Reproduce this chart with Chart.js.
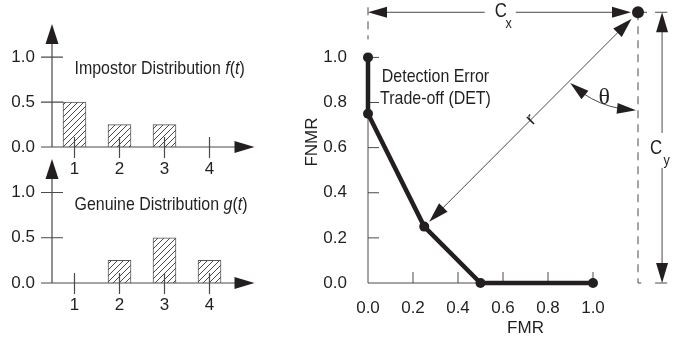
<!DOCTYPE html>
<html>
<head>
<meta charset="utf-8">
<script src="https://cdn.jsdelivr.net/npm/chart.js@4/dist/chart.umd.min.js"></script>
<style>
    body { margin: 0; background: #fff; }
    #wrap { position: relative; width: 684px; height: 343px; overflow: hidden; }
    #wrap canvas { position: absolute; }
</style>
</head>
<body>
<div id="wrap">
    <canvas id="impostor" width="300" height="190" style="left:0;top:0"></canvas>
    <canvas id="genuine" width="300" height="193" style="left:0;top:150px"></canvas>
    <canvas id="det" width="384" height="343" style="left:300px;top:0"></canvas>
</div>
<script>
// score thresholds t and the two score distributions
const thresholds = [1, 2, 3, 4];
const impostor = [0.5, 0.25, 0.25, 0];
const genuine = [0, 0.25, 0.5, 0.25];
const probTicks = [0, 0.5, 1.0];

// DET curve points
const fmr = [0, 0, 0.25, 0.5, 1.0];
const fnmr = [1.0, 0.75, 0.25, 0, 0];
const rateTicks = [0, 0.2, 0.4, 0.6, 0.8, 1.0];

// cost point (Cx, Cy) and the DET point it is measured to
const costPoint = [1.2, 1.2];
const nearestPoint = [0.25, 0.25];

const ink = '#231f20';
const line = '#4a4a4a';
const sans = '"Liberation Sans", Arial, sans-serif';
const serif = '"Liberation Serif", "DejaVu Serif", serif';
const squeeze = 0.84;   // the original lettering is a condensed face

Chart.defaults.font.family = sans;
Chart.defaults.color = ink;

function arrowHead(ctx, x, y, angle, len, wid) {
    ctx.save();
    ctx.translate(x, y);
    ctx.rotate(angle);
    ctx.beginPath();
    ctx.moveTo(0, 0);
    ctx.lineTo(-len, -wid / 2);
    ctx.lineTo(-len, wid / 2);
    ctx.closePath();
    ctx.fill();
    ctx.restore();
}

// draws text squeezed horizontally, returns the drawn width
function narrowText(ctx, txt, x, y) {
    ctx.save();
    ctx.translate(x, y);
    ctx.scale(squeeze, 1);
    ctx.fillText(txt, 0, 0);
    ctx.restore();
    return ctx.measureText(txt).width * squeeze;
}

function hatch() {
    const p = document.createElement('canvas');
    p.width = 6; p.height = 6;
    const c = p.getContext('2d');
    c.fillStyle = '#fff';
    c.fillRect(0, 0, 6, 6);
    c.strokeStyle = '#333';
    c.lineWidth = 0.9;
    c.beginPath();
    c.moveTo(0, 6); c.lineTo(6, 0);
    c.moveTo(-1, 1); c.lineTo(1, -1);
    c.moveTo(5, 7); c.lineTo(7, 5);
    c.stroke();
    return c.createPattern(p, 'repeat');
}

function noPad(s) {
    s.paddingTop = 0; s.paddingBottom = 0;
    s.paddingLeft = 0; s.paddingRight = 0;
}

// axes with arrow tips and crossing tick marks for the small distribution plots
const arrowAxes = {
    id: 'arrowAxes',
    afterDraw(chart, args, opts) {
        const { ctx, chartArea, scales: { x, y } } = chart;
        const x0 = x.left;
        const y0 = y.getPixelForValue(0);
        ctx.save();
        ctx.strokeStyle = line;
        ctx.fillStyle = ink;
        ctx.lineWidth = 1.2;
        ctx.beginPath();
        ctx.moveTo(x0 - 11, y0); ctx.lineTo(chartArea.right - 15, y0);
        ctx.moveTo(x0, y0); ctx.lineTo(x0, chartArea.top + 15);
        thresholds.forEach(t => {
            const px = x.getPixelForValue(t);
            ctx.moveTo(px, y0 - 10); ctx.lineTo(px, y0 + 11);
        });
        probTicks.slice(1).forEach(v => {
            const py = y.getPixelForValue(v);
            ctx.moveTo(x0 - 11, py); ctx.lineTo(x0 + 11, py);
        });
        ctx.stroke();
        arrowHead(ctx, chartArea.right, y0, 0, 20, 12);
        arrowHead(ctx, x0, chartArea.top, -Math.PI / 2, 20, 13);

        // caption with italic function name
        let px = x.getPixelForValue(1.0);
        const py = y.getPixelForValue(0.867);
        ctx.textBaseline = 'middle';
        opts.caption.forEach(([txt, it]) => {
            ctx.font = (it ? 'italic ' : '') + '19px ' + sans;
            px += narrowText(ctx, txt, px, py);
        });
        ctx.restore();
    }
};

function distChart(id, values, caption) {
    return new Chart(document.getElementById(id), {
        type: 'bar',
        data: {
            datasets: [{
                data: thresholds.map((t, i) => ({ x: t, y: values[i] })),
                backgroundColor: hatch(),
                borderColor: '#555',
                borderWidth: 1,
                borderSkipped: 'start',
                barThickness: 23
            }]
        },
        options: {
            responsive: false,
            animation: false,
            layout: { autoPadding: false, padding: { top: id === 'impostor' ? 24 : 9, right: 45.5 } },
            plugins: { legend: { display: false }, tooltip: { enabled: false }, arrowAxes: { caption } },
            scales: {
                x: {
                    type: 'linear', min: 0.5, max: 5, offset: false,
                    afterBuildTicks: s => { s.ticks = thresholds.map(v => ({ value: v })); },
                    afterFit: s => { s.height = id === 'impostor' ? 43 : 60; noPad(s); },
                    grid: { display: false, drawTicks: false },
                    border: { display: false },
                    ticks: { padding: 12, font: { size: 17 }, callback: v => String(v) }
                },
                y: {
                    min: 0, max: 1.37,
                    afterBuildTicks: s => { s.ticks = probTicks.map(v => ({ value: v })); },
                    afterFit: s => { s.width = 52; noPad(s); },
                    grid: { display: false, drawTicks: false },
                    border: { display: false },
                    ticks: { padding: 17, font: { size: 17 }, callback: v => v.toFixed(1) }
                }
            }
        },
        plugins: [arrowAxes]
    });
}

distChart('impostor', impostor, [['Impostor Distribution '], ['f', true], ['('], ['t', true], [')']]);
distChart('genuine', genuine, [['Genuine Distribution '], ['g', true], ['('], ['t', true], [')']]);

// DET plot: inner ticks, dimension arrows, r and theta
const detDecor = {
    id: 'detDecor',
    beforeDatasetsDraw(chart) {
        const { ctx, scales: { x, y } } = chart;
        const X = v => x.getPixelForValue(v);
        const Y = v => y.getPixelForValue(v);
        ctx.save();
        ctx.strokeStyle = line;
        ctx.lineWidth = 1;
        ctx.beginPath();
        ctx.moveTo(X(0), Y(0)); ctx.lineTo(X(1), Y(0));
        ctx.moveTo(X(0), Y(0)); ctx.lineTo(X(0), Y(1));
        rateTicks.slice(1).forEach(v => {
            ctx.moveTo(X(v), Y(0)); ctx.lineTo(X(v), Y(0) - 11);
            ctx.moveTo(X(0), Y(v)); ctx.lineTo(X(0) + 11, Y(v));
        });
        ctx.stroke();

        // dashed guides
        const [cx, cy] = costPoint;
        ctx.setLineDash([8, 6]);
        ctx.beginPath();
        ctx.moveTo(X(cx), Y(cy)); ctx.lineTo(X(cx), Y(0));
        ctx.lineTo(X(1.24), Y(0));
        ctx.moveTo(X(0), Y(cy) - 5); ctx.lineTo(X(0), Y(1.08));
        ctx.stroke();
        ctx.setLineDash([]);
        ctx.beginPath();
        ctx.moveTo(X(cx), Y(cy)); ctx.lineTo(X(1.24), Y(cy));
        ctx.stroke();
        ctx.restore();
    },
    afterDatasetsDraw(chart) {
        const { ctx, scales: { x, y } } = chart;
        const X = v => x.getPixelForValue(v);
        const Y = v => y.getPixelForValue(v);
        const [cx, cy] = costPoint;
        const px = X(cx), py = Y(cy);
        ctx.save();
        ctx.strokeStyle = line;
        ctx.fillStyle = ink;
        ctx.lineWidth = 1;

        // Cx dimension
        const cxMid = X(0.59);
        ctx.beginPath();
        ctx.moveTo(X(0) + 10, py); ctx.lineTo(cxMid - 16, py);
        ctx.moveTo(cxMid + 15, py); ctx.lineTo(px - 15, py);
        // Cy dimension
        const dx = X(1.307);
        ctx.moveTo(dx, py + 10); ctx.lineTo(dx, Y(0.665));
        ctx.moveTo(dx, Y(0.51)); ctx.lineTo(dx, Y(0) - 10);
        ctx.moveTo(X(1.276), py); ctx.lineTo(X(1.33), py);
        ctx.moveTo(X(1.276), Y(0)); ctx.lineTo(X(1.33), Y(0));
        ctx.stroke();
        arrowHead(ctx, X(0), py, Math.PI, 19, 11);
        arrowHead(ctx, px - 7, py, 0, 19, 11);
        arrowHead(ctx, dx, py, -Math.PI / 2, 20, 12);
        arrowHead(ctx, dx, Y(0), Math.PI / 2, 20, 12);

        ctx.textAlign = 'center';
        ctx.textBaseline = 'middle';
        ctx.font = '20px ' + sans;
        narrowText(ctx, 'C', cxMid, py - 1);
        narrowText(ctx, 'C', X(1.28), Y(0.595));
        ctx.font = '15px ' + sans;
        narrowText(ctx, 'x', cxMid + 8, py + 12);
        narrowText(ctx, 'y', X(1.327), Y(0.54));

        // r: from cost point to nearest DET point
        const [nx, ny] = nearestPoint;
        const qx = X(nx), qy = Y(ny);
        const ang = Math.atan2(qy - py, qx - px);
        const sx = px + 9 * Math.cos(ang), sy = py + 9 * Math.sin(ang);
        const ex = qx - 7 * Math.cos(ang), ey = qy - 7 * Math.sin(ang);
        ctx.beginPath();
        ctx.moveTo(sx + 15 * Math.cos(ang), sy + 15 * Math.sin(ang));
        ctx.lineTo(ex - 15 * Math.cos(ang), ey - 15 * Math.sin(ang));
        ctx.stroke();
        arrowHead(ctx, sx, sy, ang + Math.PI, 20, 12);
        arrowHead(ctx, ex, ey, ang, 20, 12);
        ctx.save();
        ctx.translate(X(0.725), Y(0.725));
        ctx.rotate(ang + Math.PI);
        ctx.font = '19px ' + sans;
        ctx.fillText('r', 0, 0);
        ctx.restore();

        // theta arc between r and the vertical through the cost point
        const rad = 98;
        const a0 = Math.PI / 2 + 0.02, a1 = ang - 0.02;
        ctx.beginPath();
        ctx.arc(px, py, rad, a0 + 0.17, a1 - 0.17);
        ctx.stroke();
        arrowHead(ctx, px + rad * Math.cos(a0), py + rad * Math.sin(a0), a0 - Math.PI / 2 + 0.08, 19, 11);
        arrowHead(ctx, px + rad * Math.cos(a1), py + rad * Math.sin(a1), a1 + Math.PI / 2 - 0.08, 19, 11);
        ctx.font = '24px ' + serif;
        ctx.fillText('\u03b8', X(1.05), Y(0.82));

        // curve label
        ctx.font = '19px ' + sans;
        narrowText(ctx, 'Detection Error', X(0.3), Y(0.915));
        narrowText(ctx, 'Trade-off (DET)', X(0.3), Y(0.818));
        ctx.restore();
    }
};

new Chart(document.getElementById('det'), {
    type: 'line',
    data: {
        datasets: [{
            data: fmr.map((v, i) => ({ x: v, y: fnmr[i] })),
            borderColor: ink,
            borderWidth: 4.5,
            backgroundColor: ink,
            pointRadius: 5,
            pointBackgroundColor: ink,
            pointBorderWidth: 0,
            clip: false
        }, {
            data: [{ x: costPoint[0], y: costPoint[1] }],
            showLine: false,
            pointRadius: 6,
            pointBackgroundColor: ink,
            pointBorderWidth: 0,
            clip: false
        }]
    },
    options: {
        responsive: false,
        animation: false,
        layout: { autoPadding: false, padding: { top: 1, right: 1 } },
        plugins: { legend: { display: false }, tooltip: { enabled: false } },
        scales: {
            x: {
                type: 'linear', min: 0, max: 1.4,
                afterBuildTicks: s => { s.ticks = rateTicks.map(v => ({ value: v })); },
                afterFit: s => { s.height = 60; noPad(s); },
                grid: { display: false, drawTicks: false },
                border: { display: false },
                ticks: { padding: 15, font: { size: 17 }, callback: v => v.toFixed(1) },
                title: { display: true, text: 'FMR', font: { size: 17 }, padding: { top: 0, bottom: 4 } }
            },
            y: {
                min: 0, max: 1.25,
                afterBuildTicks: s => { s.ticks = rateTicks.map(v => ({ value: v })); },
                afterFit: s => { s.width = 68; noPad(s); },
                grid: { display: false, drawTicks: false },
                border: { display: false },
                ticks: { padding: 21, font: { size: 17 }, callback: v => v.toFixed(1) },
                title: { display: true, text: 'FNMR', font: { size: 17 }, padding: { top: 2, bottom: 0 } }
            }
        }
    },
    plugins: [detDecor]
});
</script>
</body>
</html>
